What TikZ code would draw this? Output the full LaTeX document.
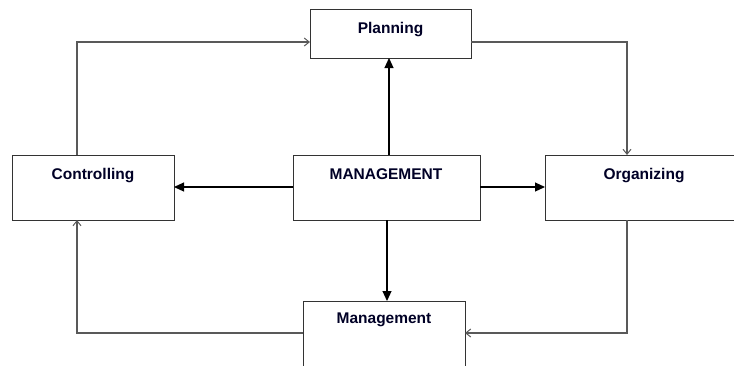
\documentclass[tikz,border=0pt]{standalone}
\usepackage{fontspec}
\setmainfont{Liberation Sans}
\usetikzlibrary{arrows.meta}
\begin{document}
\begin{tikzpicture}[x=1pt,y=-1pt,
  box/.style={draw=black!80,line width=1pt,fill=white},
  lbl/.style={font=\bfseries\fontsize{15.5}{18}\selectfont,anchor=base,text=black!85!blue,inner sep=0pt},
  thin/.style={draw=black!65,line width=1.1pt,-{Straight Barb[length=5pt,width=8pt,line width=1pt]}},
  thick/.style={draw=black,line width=1.1pt,-{Triangle[length=10pt,width=9pt]}}]
\useasboundingbox (0,0) rectangle (734,365);
\clip (0,0) rectangle (734,365);
% boxes
\path[box] (310,9) rectangle (471,58);
\path[box] (12,155) rectangle (174,220);
\path[box] (293,155) rectangle (480,220);
\path[box] (545,155) rectangle (745,220);
\path[box] (303,301) rectangle (465,375);
% named anchors
\coordinate (plL) at (310,42);
\coordinate (plR) at (471,42);
\coordinate (plB) at (389,58);
\coordinate (coT) at (77,155);
\coordinate (coB) at (77,220);
\coordinate (coR) at (174,187);
\coordinate (maT) at (389,155);
\coordinate (maB) at (387,220);
\coordinate (maL) at (293,187);
\coordinate (maR) at (480,187);
\coordinate (orT) at (627,155);
\coordinate (orB) at (627,220);
\coordinate (orL) at (545,187);
\coordinate (mgT) at (387,301);
\coordinate (mgR) at (465,333);
\coordinate (mgL) at (303,333);
% labels
\node[lbl] (tpl) at (390.5,33) {Planning};
\node[lbl] (tco) at (93,179) {Controlling};
\node[lbl] (tma) at (386,179) {MANAGEMENT};
\node[lbl] (tor) at (644,179) {Organizing};
\node[lbl] (tmg) at (384,323) {Management};
% connectors
\draw[thin] (coT) |- (plL);
\draw[thin] (plR) -| (orT);
\draw[thin] (orB) |- (mgR);
\draw[thin] (mgL) -| (coB);
\draw[thick] (maT) -- (plB);
\draw[thick] (maL) -- (coR);
\draw[thick] (maR) -- (orL);
\draw[thick] (maB) -- (mgT);
\end{tikzpicture}
\end{document}
